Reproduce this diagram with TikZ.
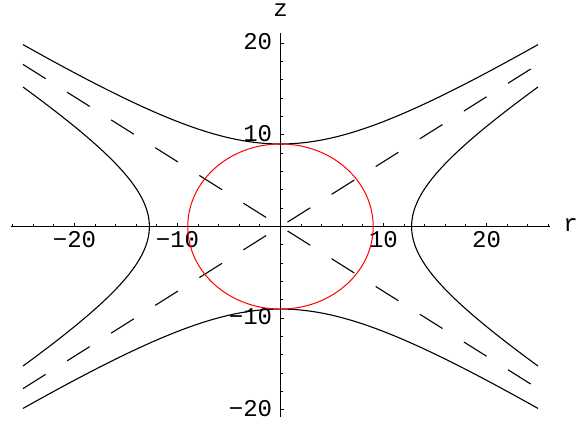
\documentclass[tikz,border=0pt]{standalone}
\usepackage{fontspec}
\setmonofont{Liberation Mono}

\begin{document}
\begin{tikzpicture}[
  x=5.15bp, y=4.585bp,
  font=\ttfamily\fontsize{12bp}{14bp}\selectfont,
  ax/.style={line width=0.5bp},
  crv/.style={line width=0.55bp},
  asym/.style={line width=0.55bp, dash pattern=on 13.4bp off 12.65bp},
  lbl/.style={inner sep=0pt},
]
\path[fill=white, use as bounding box] (-27.23,-21.86) rectangle (28.98,24.70);
% axes
\draw[ax] (-26.2,0) -- (26.2,0);
\draw[ax] (0,-20.8) -- (0,21.05);
% ticks on r axis
\foreach \t in {-26,-24,...,26} {
  \ifnum\t=0 \else
    \draw[ax] (\t,0) -- ++(0,1.25bp);
  \fi
}
% ticks on z axis
\foreach \t in {-20,-18,...,20} {
  \ifnum\t=0 \else
    \draw[ax] (0,\t) -- ++(1.25bp,0);
  \fi
}
\foreach \t/\s in {-20/−20,-10/−10,10/10,20/20} {
  \draw[ax] (\t,0) -- ++(0,2bp);
  \draw[ax] (0,\t) -- ++(2bp,0);
  \node[lbl, anchor=base] (rl\t) at (\t,0) [yshift=-10.25bp] {\s};
  \node[lbl, anchor=base east] (zl\t) at (0,\t) [xshift=-4bp, yshift=-3.3bp] {\s};
}
\node[lbl, anchor=base] (rname) at (28.15,-0.567) {r};
\node[lbl, anchor=base] (zname) at (0,22.9) {z};
% asymptotes
\draw[asym] (-25,{25/sqrt(2)}) -- (25,{-25/sqrt(2)});
\draw[asym] (-25,{-25/sqrt(2)}) -- (25,{25/sqrt(2)});
% hyperbolas
\draw[crv] plot[domain=-25:25, samples=101, smooth] (\x,{sqrt(81+0.5*\x*\x)});
\draw[crv] plot[domain=-25:25, samples=101, smooth] (\x,{-sqrt(81+0.5*\x*\x)});
\draw[crv] plot[domain=-15.215:15.215, samples=81, smooth] ({sqrt(162+2*\x*\x)},\x);
\draw[crv] plot[domain=-15.215:15.215, samples=81, smooth] ({-sqrt(162+2*\x*\x)},\x);
% circle
\draw[red, line width=0.5bp] (0,0) circle [radius=9];
\end{tikzpicture}
\end{document}
